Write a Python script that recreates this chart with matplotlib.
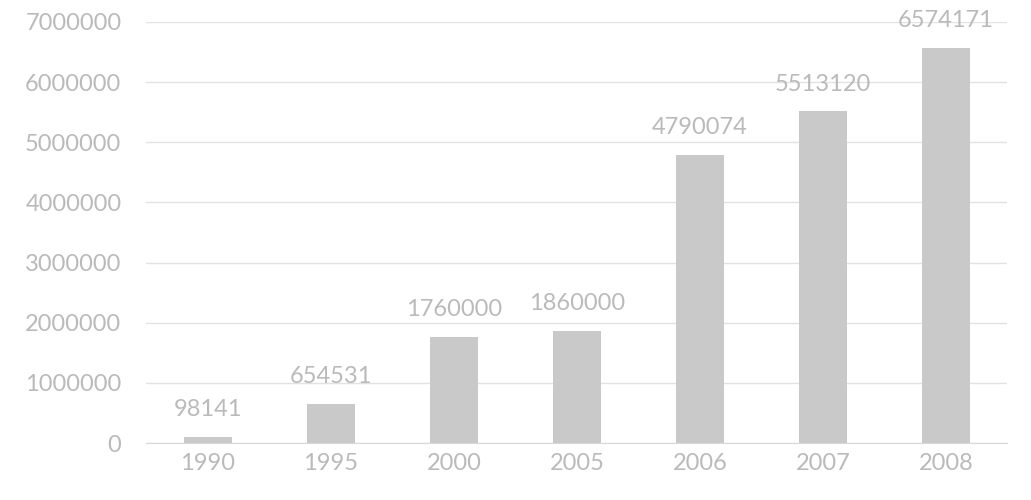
import numpy as np
import matplotlib
matplotlib.use("Agg")
import matplotlib.pyplot as plt

# Data (2000/2005/2006 partly hidden, estimated)
years = ["1990", "1995", "2000", "2005", "2006", "2007", "2008"]
values = [98141, 654531, 1760000, 1860000, 4790074, 5513120, 6574171]
yticks = [0, 1000000, 2000000, 3000000, 4000000, 5000000, 6000000, 7000000]

plt.rcParams['font.family'] = ['Lato', 'DejaVu Sans']

fig = plt.figure(figsize=(10.31, 5.0), dpi=100)
ax = fig.add_axes([0.142, 0.114, 0.835, 0.842])

text_col = "#bababa"
bar_col = "#c9c9c9"

x = np.arange(len(years))
bars = ax.bar(x, values, width=0.39, color=bar_col, zorder=2)

for xi, v in zip(x, values):
    ax.text(xi, v + 280000, str(v), ha="center", va="bottom",
            fontsize=17, color=text_col)

ax.set_xlim(-0.5, len(years) - 0.5)
ax.set_ylim(0, 7000000)
ax.set_yticks(yticks)
ax.set_yticklabels([str(t) for t in yticks])
ax.set_xticks(x)
ax.set_xticklabels(years)
ax.tick_params(axis="both", length=0, labelsize=17, colors=text_col)
ax.tick_params(axis="y", pad=18)
ax.tick_params(axis="x", pad=7)

ax.grid(axis="y", color="#e2e2e2", linewidth=1, zorder=0)
for s in ["top", "right", "left"]:
    ax.spines[s].set_visible(False)
ax.spines["bottom"].set_color("#d8d8d8")

fig.savefig("out.png", dpi=100)
